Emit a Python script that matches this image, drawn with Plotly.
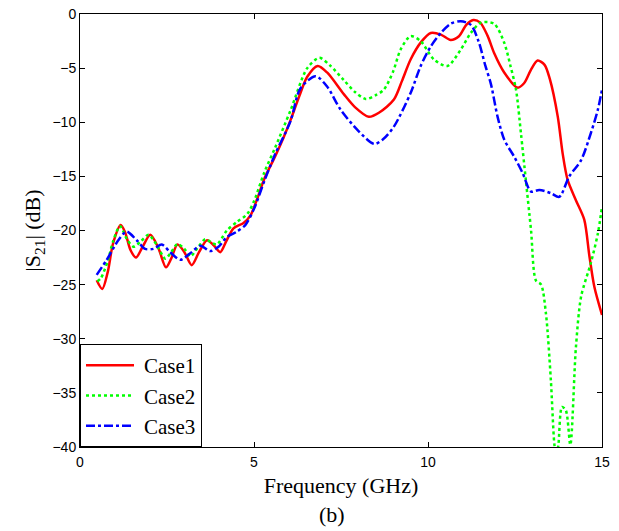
import plotly.graph_objects as go

# Case1 (red, solid)
case1_freq = [0.48, 0.64, 0.80, 0.95, 1.17, 1.30, 1.45, 1.61, 1.80, 2.02, 2.25, 2.47, 2.62, 2.80,
              3.00, 3.21, 3.42, 3.65, 3.85, 4.03, 4.20, 4.41, 4.70, 4.90, 5.10, 5.30, 5.60, 5.85,
              6.05, 6.30, 6.53, 6.83, 7.10, 7.58, 7.90, 8.30, 8.60, 9.02, 9.25, 9.50, 9.80, 10.08,
              10.37, 10.65, 10.89, 11.10, 11.30, 11.50, 11.71, 11.90, 12.19, 12.57, 12.76, 12.95,
              13.15, 13.35, 13.50, 13.73, 13.87, 14.01, 14.25, 14.49, 14.64, 14.78, 15.00]
case1_s21 = [-24.6, -25.4, -23.8, -21.2, -19.5, -20.2, -21.8, -22.5, -21.5, -20.4, -21.6, -23.4, -22.6, -21.3,
             -22.0, -23.2, -22.0, -20.9, -21.4, -22.0, -21.0, -19.8, -19.3, -18.6, -17.0, -15.2, -13.2, -11.4,
             -9.8, -7.6, -5.8, -4.8, -5.4, -7.4, -8.6, -9.5, -9.1, -7.9, -6.2, -4.2, -2.6, -1.75,
             -1.9, -2.4, -2.05, -1.0, -0.55, -0.8, -2.0, -3.6, -5.4, -6.8, -6.4, -5.2,
             -4.3, -4.7, -6.0, -9.5, -12.9, -15.3, -17.2, -19.0, -22.4, -25.2, -27.8]

# Case2 (green, dotted)
case2_freq = [0.50, 0.60, 0.80, 0.95, 1.15, 1.35, 1.54, 1.75, 1.97, 2.20, 2.45, 2.62, 2.80, 3.00,
              3.17, 3.38, 3.60, 3.78, 3.93, 4.22, 4.51, 4.80, 5.00, 5.30, 5.60, 6.05, 6.53, 6.88,
              7.20, 7.58, 7.90, 8.21, 8.50, 8.73, 9.00, 9.21, 9.50, 9.79, 10.17, 10.56, 10.94, 11.23,
              11.52, 11.90, 12.19, 12.37, 12.53, 12.67, 12.81, 12.96, 13.10, 13.25, 13.39, 13.53,
              13.63, 13.69, 13.75, 13.85, 13.96, 14.09, 14.25, 14.40, 14.68, 14.88, 15.00]
case2_s21 = [-24.7, -24.4, -22.8, -21.0, -19.6, -20.8, -21.5, -21.0, -20.4, -21.3, -22.6, -22.0, -21.25, -21.7,
             -22.4, -21.6, -20.8, -21.1, -21.3, -20.0, -19.2, -18.5, -17.3, -14.6, -12.4, -8.9, -5.0, -4.05,
             -4.8, -6.1, -7.2, -7.85, -7.5, -7.0, -5.3, -3.3, -2.05, -2.5, -4.2, -4.8, -3.3, -1.75,
             -0.8, -0.9, -2.65, -4.8, -7.0, -11.0, -15.3, -19.95, -24.6, -25.0, -27.7, -33.8,
             -39.7, -41.0, -39.7, -36.3, -36.6, -39.8, -30.8, -26.1, -23.0, -20.3, -17.8]

# Case3 (blue, dash-dot)
case3_freq = [0.48, 0.77, 1.10, 1.34, 1.63, 1.87, 2.11, 2.35, 2.59, 2.88, 3.17, 3.46, 3.74, 3.98,
              4.22, 4.51, 4.75, 5.00, 5.30, 5.60, 6.05, 6.33, 6.77, 7.10, 7.49, 7.97, 8.45, 8.70,
              9.02, 9.50, 9.79, 10.08, 10.37, 10.65, 10.94, 11.23, 11.45, 11.65, 11.81, 12.00, 12.19,
              12.48, 12.72, 12.96, 13.20, 13.53, 13.77, 14.06, 14.40, 14.68, 14.88, 15.00]
case3_s21 = [-24.1, -22.7, -20.9, -20.1, -20.9, -21.7, -21.7, -21.3, -22.0, -22.7, -22.1, -21.4, -21.9, -21.5,
             -20.6, -20.1, -19.5, -18.0, -15.4, -13.0, -9.9, -6.9, -5.75, -6.7, -8.85, -10.7, -12.0, -11.6,
             -10.4, -7.3, -4.8, -3.0, -1.75, -0.9, -0.67, -1.0, -2.5, -4.8, -6.5, -9.5, -11.6,
             -13.2, -14.7, -16.4, -16.25, -16.55, -16.9, -15.0, -13.5, -11.0, -8.85, -7.0]

x_ticks = [0, 5, 10, 15]
y_ticks = [0, -5, -10, -15, -20, -25, -30, -35, -40]

SERIF = "Times New Roman, Liberation Serif, serif"
SANS = "Arial, Liberation Sans, sans-serif"

fig = go.Figure()

# one trace per case
for name, xs, ys, color, dash in [
    ("Case1", case1_freq, case1_s21, "#ff0000", "solid"),
    ("Case2", case2_freq, case2_s21, "#00ff00", "dot"),
    ("Case3", case3_freq, case3_s21, "#0000ff", "dashdot"),
]:
    fig.add_trace(
        go.Scatter(
            x=xs,
            y=ys,
            name=name,
            mode="lines",
            line=dict(color=color, width=2.5, dash=dash, shape="spline", smoothing=0.8),
        )
    )

axis_style = dict(
    showgrid=False,
    zeroline=False,
    showline=True,
    linecolor="black",
    linewidth=1,
    mirror="ticks",
    ticks="inside",
    ticklen=5,
    tickcolor="black",
    automargin=False,
    tickfont=dict(family=SANS, size=14, color="black"),
)

fig.update_xaxes(
    range=[0, 15],
    tickvals=x_ticks,
    ticklabelstandoff=2,
    title=dict(text="Frequency (GHz)", font=dict(family=SERIF, size=22, color="black"), standoff=8),
    **axis_style,
)
fig.update_yaxes(
    range=[-40, 0],
    tickvals=y_ticks,
    title=dict(text="|S<sub>21</sub>| (dB)", font=dict(family=SERIF, size=22, color="black"), standoff=5),
    **axis_style,
)

# sub-figure label
fig.add_annotation(
    text="(b)",
    x=0.483,
    y=-0.157,
    xref="paper",
    yref="paper",
    showarrow=False,
    yanchor="middle",
    font=dict(family=SERIF, size=22, color="black"),
)

fig.update_layout(
    width=619,
    height=531,
    margin=dict(l=80, r=17, t=14, b=84),
    plot_bgcolor="white",
    paper_bgcolor="white",
    showlegend=True,
    legend=dict(
        x=0,
        y=0,
        xanchor="left",
        yanchor="bottom",
        bgcolor="white",
        bordercolor="black",
        borderwidth=1,
        itemwidth=53,
        font=dict(family=SERIF, size=21, color="black"),
        tracegroupgap=0,
    ),
)

# drop the page margin and stretch the legend line samples a bit (MATLAB style)
post = """
document.body.style.margin = '0px';
document.querySelectorAll('.legendlines path').forEach(function (p) {
    p.setAttribute('d', 'M5,0h48');
});
"""
fig.write_html("out.html", config={"displayModeBar": False}, post_script=post)
